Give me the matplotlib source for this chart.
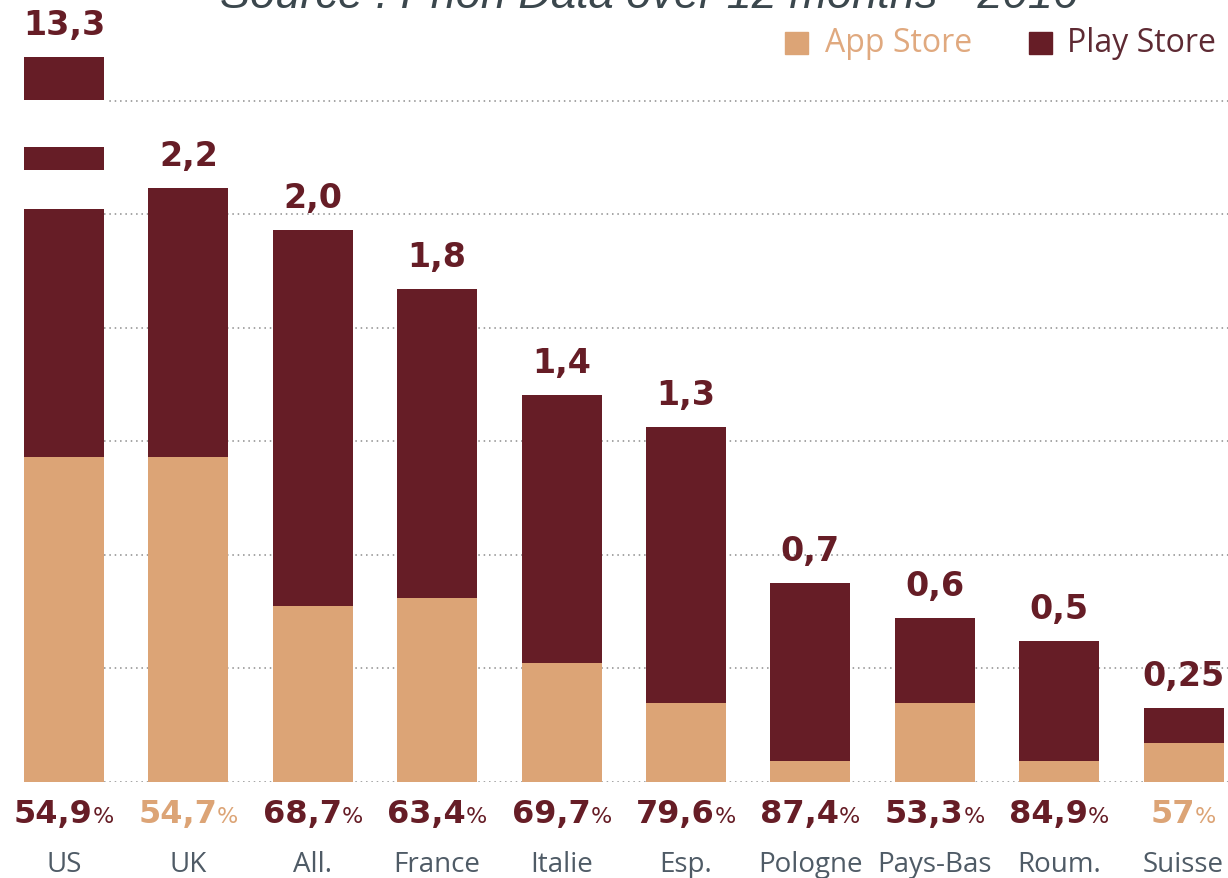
import numpy as np
import matplotlib.pyplot as plt

# App Store / Play Store split, heights (same units for all bars)
countries = ['US', 'UK', 'All.', 'France', 'Italie', 'Esp.', 'Pologne', 'Pays-Bas', 'Roum.', 'Suisse']
app_store = [1.195, 1.195, 0.647, 0.676, 0.437, 0.290, 0.077, 0.290, 0.077, 0.143]
play_store = [12.1, 0.989, 1.382, 1.136, 0.985, 1.015, 0.654, 0.312, 0.441, 0.129]
totals = ['13,3', '2,2', '2,0', '1,8', '1,4', '1,3', '0,7', '0,6', '0,5', '0,25']
shares = ['54,9', '54,7', '68,7', '63,4', '69,7', '79,6', '87,4', '53,3', '84,9', '57']
share_is_app = [False, True, False, False, False, False, False, False, False, True]

TAN = '#dca476'
DARK = '#661d26'
GREY = '#4f5b66'

fig = plt.figure(figsize=(12.28, 8.79), dpi=100)
ax = fig.add_axes([0, 96 / 879, 1, 783 / 879])
ax.set_xlim(-0.514, 9.357)
ax.set_ylim(0, 2.879)
ax.axis('off')

x = np.arange(len(countries))
width = 0.643
app = np.array(app_store)
play = np.array(play_store)

# US bar is cut: cap its drawn height and punch two white gaps in it
cap_top = 2.665
play_drawn = np.minimum(play, cap_top - app)

# dotted grid, starting at the right edge of the first bar
grid_step = 0.4175
for k in range(7):
    ax.hlines(k * grid_step, width / 2, 9.357, colors='#8c8c8c', linestyles=(0, (1, 2.5)),
              linewidth=1.1, zorder=1)

ax.bar(x, app, width, color=TAN, zorder=2)
ax.bar(x, play_drawn, width, bottom=app, color=DARK, zorder=2)

for lo, hi in [(2.107, 2.25), (2.335, 2.507)]:
    ax.bar(0, hi - lo, width * 1.04, bottom=lo, color='white', zorder=3)

# totals above bars
for i in range(len(x)):
    top = app[i] + play_drawn[i]
    ax.annotate(totals[i], (x[i], top), xytext=(0, 23), textcoords='offset pixels',
                ha='center', va='baseline', fontsize=24, fontweight='bold',
                color=DARK, family='DejaVu Sans', zorder=4)

# percentage labels below bars, number + small %
fig.canvas.draw()
r = fig.canvas.get_renderer()
for i in range(len(x)):
    col = TAN if share_is_app[i] else DARK
    t1 = ax.text(0, 0, shares[i], fontsize=23, fontweight='bold', color=col,
                 family='DejaVu Sans', ha='left', va='baseline')
    t2 = ax.text(0, 0, '%', fontsize=16, color=col, family='DejaVu Sans',
                 ha='left', va='baseline')
    w1 = t1.get_window_extent(r).width
    w2 = t2.get_window_extent(r).width
    cx, _ = ax.transData.transform((x[i], 0))
    left = cx - (w1 + w2) / 2
    base_px = 879 - 823
    t1.set_transform(None)
    t2.set_transform(None)
    t1.set_position((left, base_px))
    t2.set_position((left + w1, base_px))
    t1.set_clip_on(False)
    t2.set_clip_on(False)

for i, name in enumerate(countries):
    ax.text(x[i], -0.327, name, ha='center', va='baseline', fontsize=20,
            color=GREY, family='Open Sans', clip_on=False)

# legend
fig.patches.append(plt.Rectangle((785 / 1228, 1 - 55 / 879), 23 / 1228, 22 / 879,
                                 transform=fig.transFigure, color=TAN))
fig.text(825 / 1228, 1 - 43 / 879, 'App Store', fontsize=23, color='#e0a97f',
         family='Open Sans', va='center', ha='left')
fig.patches.append(plt.Rectangle((1029 / 1228, 1 - 55 / 879), 23 / 1228, 22 / 879,
                                 transform=fig.transFigure, color=DARK))
fig.text(1067 / 1228, 1 - 43 / 879, 'Play Store', fontsize=23, color='#5e2a33',
         family='Open Sans', va='center', ha='left')

fig.text(649 / 1228, 1 - 8.5 / 879, 'Source : Priori Data over 12 months - 2016',
         fontsize=32.5, style='italic', color='#3b474d', family='Liberation Sans',
         ha='center', va='baseline')

fig.savefig('out.png', dpi=100)
